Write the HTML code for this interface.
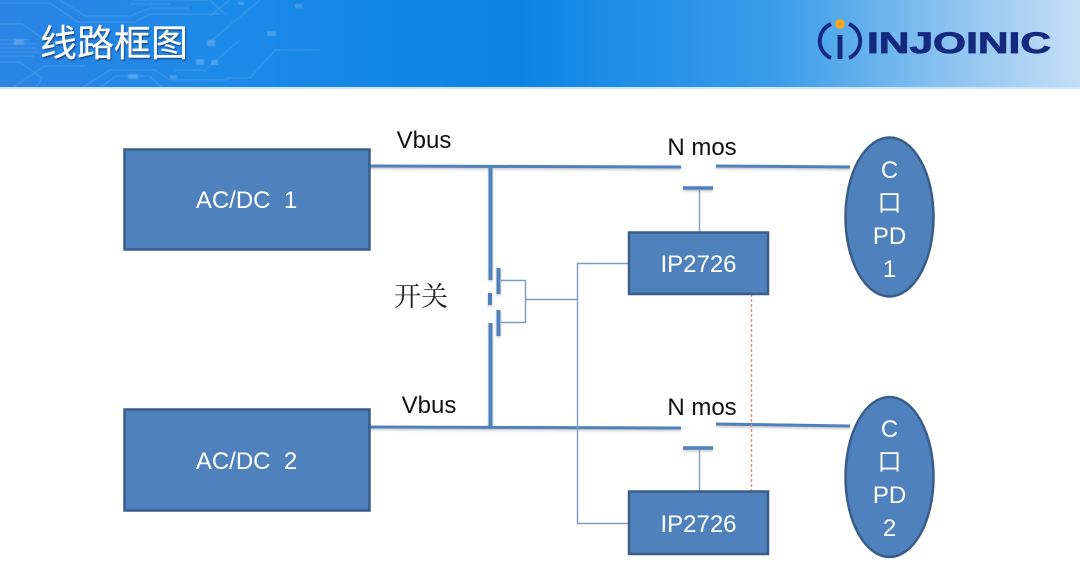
<!DOCTYPE html>
<html lang="zh">
<head>
<meta charset="utf-8">
<title>线路框图</title>
<style>
html,body{margin:0;padding:0;background:#fff;}
body{width:1080px;height:586px;overflow:hidden;position:relative;}
svg{position:absolute;left:0;top:0;display:block;}
text{font-family:"Liberation Sans","Noto Sans CJK SC",sans-serif;}
</style>
</head>
<body>
<svg width="1080" height="586" viewBox="0 0 1080 586" xmlns="http://www.w3.org/2000/svg">
<defs>
<linearGradient id="hdr" x1="0" y1="0" x2="1" y2="0">
<stop offset="0" stop-color="#2a84e4"/>
<stop offset="0.2" stop-color="#1d8ae8"/>
<stop offset="0.48" stop-color="#0b84e4"/>
<stop offset="0.72" stop-color="#3a9de9"/>
<stop offset="0.88" stop-color="#8cc3f0"/>
<stop offset="1" stop-color="#c4dff6"/>
</linearGradient>
<filter id="sh" x="-20%" y="-20%" width="140%" height="140%">
<feDropShadow dx="0" dy="1.5" stdDeviation="1.2" flood-color="#7a7a7a" flood-opacity="0.45"/>
</filter>
<filter id="ts" x="-10%" y="-10%" width="120%" height="130%">
<feDropShadow dx="1" dy="1.5" stdDeviation="0.8" flood-color="#123a70" flood-opacity="0.8"/>
</filter>
<filter id="bl" x="0" y="0" width="100%" height="100%">
<feGaussianBlur stdDeviation="0.6"/>
</filter>
</defs>

<rect x="0" y="0" width="1080" height="88" fill="url(#hdr)"/>
<rect x="0" y="87" width="1080" height="2" fill="#cfe6fa"/>

<!-- circuit pattern -->
<g filter="url(#bl)">
<g fill="none" stroke="#a8d2f8" stroke-width="1" opacity="0.26">
<path d="M0 3H50L78 22H135L150 14H220"/>
<path d="M60 0L85 16H130L150 8H190"/>
<path d="M0 24H22L48 42H60"/>
<path d="M0 40H30M0 44H40M0 48H36M0 52H40M0 56H34"/>
<path d="M0 62H20L42 78L36 88"/>
<path d="M12 88L45 66H85"/>
<path d="M82 88L110 70H155L170 80H230"/>
<path d="M100 88L116 76H150L162 88"/>
<path d="M170 4H130M135 0H210L225 14"/>
<path d="M230 0L210 16M240 40L205 70H175"/>
<path d="M260 0L210 42M225 78H250L275 50H320"/>
</g>
<g fill="#a8d2f8" opacity="0.3">
<rect x="14" y="39" width="10" height="6"/><rect x="207" y="40" width="8" height="6"/>
<rect x="196" y="59" width="8" height="6"/><rect x="211" y="60" width="7" height="5"/>
<rect x="267" y="31" width="9" height="5"/><rect x="128" y="74" width="10" height="5"/>
<rect x="170" y="75" width="7" height="4"/>
<rect x="295" y="4" width="7" height="4"/><rect x="238" y="2" width="6" height="3"/>
</g>
</g>

<!-- title -->
<text x="40" y="56" font-size="37" fill="#ffffff" stroke="#ffffff" stroke-width="0.15" filter="url(#ts)" style="font-family:'Noto Sans CJK SC',sans-serif;font-weight:400;">线路框图</text>

<!-- logo -->
<g>
<path d="M831 24 A18.500 18.500 0 0 0 831 58" fill="none" stroke="#15297f" stroke-width="4"/>
<path d="M849 24 A18.500 18.500 0 0 1 849 58" fill="none" stroke="#15297f" stroke-width="4"/>
<path d="M840 35V59" fill="none" stroke="#15297f" stroke-width="5"/>
<circle cx="840" cy="24" r="4.800" fill="#f6a51d"/>
<text x="867" y="53" font-size="30" font-weight="bold" fill="#15297f" stroke="#15297f" stroke-width="0.8" textLength="184" lengthAdjust="spacingAndGlyphs">INJOINIC</text>
</g>

<!-- thick wires -->
<g stroke="#4f81bd" stroke-width="3" fill="none" filter="url(#sh)">
<path d="M369 166L681 167"/>
<path d="M716 166L850 167"/>
<path d="M369 427L681 428"/>
<path d="M716 424L850 426"/>
<path d="M683 188H713" stroke-width="3.500"/>
<path d="M683 448H713" stroke-width="3.500"/>
<path d="M490.500 168V280" stroke-width="4"/>
<path d="M490 293V305" stroke-width="4"/>
<path d="M490.500 323V427" stroke-width="4"/>
<path d="M498.500 268V294" stroke-width="4"/>
<path d="M498.500 310V336" stroke-width="4"/>
</g>

<!-- thin wires -->
<g stroke="#7b9cc6" stroke-width="1.400" fill="none">
<path d="M501 280.500H525.500V322.500H501"/>
<path d="M525.500 299.500H577.500"/>
<path d="M629 263.500H577.500V523.500H629"/>
<path d="M699.500 189V232"/>
<path d="M699.500 449V491"/>
</g>
<path d="M751.500 294V491" stroke="#e58a88" stroke-width="1.400" stroke-dasharray="3 2" fill="none"/>

<!-- blocks -->
<g fill="#4f81bd" stroke="#385d8a" stroke-width="2.500">
<rect x="124.500" y="149.500" width="245" height="100"/>
<rect x="124.500" y="409.500" width="245" height="101"/>
<rect x="629" y="232.500" width="139" height="61.500"/>
<rect x="629" y="491.500" width="139" height="62.500"/>
<ellipse cx="889.500" cy="217" rx="44" ry="79.500"/>
<ellipse cx="889.500" cy="477" rx="44" ry="80"/>
</g>

<!-- labels -->
<g fill="#ffffff" font-size="24" text-anchor="middle">
<text x="246.500" y="208" xml:space="preserve">AC/DC  1</text>
<text x="246.500" y="469" xml:space="preserve">AC/DC  2</text>
<text x="698.500" y="272">IP2726</text>
<text x="698.500" y="532">IP2726</text>
<text x="889.500" y="178">C</text>
<text x="889.500" y="211">口</text>
<text x="889.500" y="244">PD</text>
<text x="889.500" y="277">1</text>
<text x="889.500" y="437">C</text>
<text x="889.500" y="470">口</text>
<text x="889.500" y="503">PD</text>
<text x="889.500" y="536">2</text>
</g>
<g fill="#111111" font-size="24" text-anchor="middle">
<text x="424" y="148">Vbus</text>
<text x="429" y="413">Vbus</text>
<text x="702" y="155">N mos</text>
<text x="702" y="415">N mos</text>
</g>
<text x="394" y="306" font-size="27" fill="#222222" style="font-family:'Noto Serif CJK SC',serif;">开关</text>
</svg>
</body>
</html>
